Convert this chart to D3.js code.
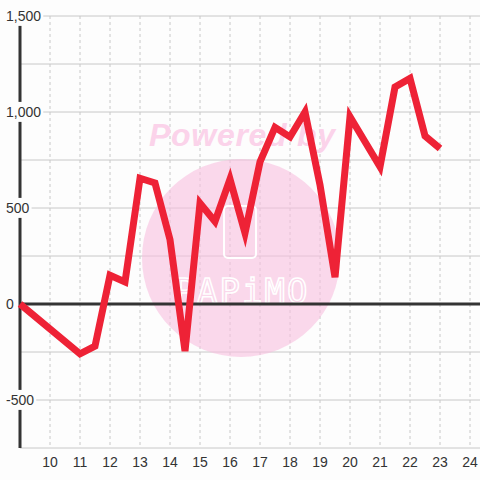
<!DOCTYPE html>
<html>
<head>
<meta charset="utf-8">
<script src="https://cdn.jsdelivr.net/npm/d3@7"></script>
<style>
  body { margin: 0; background: #fdfdfd; }
  svg { display: block; font-family: "Liberation Sans", Arial, sans-serif; }
</style>
</head>
<body>
<svg id="chart" width="480" height="480"></svg>
<script>
// data
const hours = [9, 11, 11.5, 12, 12.5, 13, 13.5, 14, 14.5, 15, 15.5, 16, 16.5, 17, 17.5, 18, 18.5, 19, 19.5, 20, 20.5, 21, 21.5, 22, 22.5, 23];
const values = [0, -260, -220, 150, 115, 655, 630, 335, -245, 525, 430, 650, 370, 740, 920, 870, 1000, 620, 140, 975, 845, 715, 1130, 1175, 875, 810];
const xTicks = [10, 11, 12, 13, 14, 15, 16, 17, 18, 19, 20, 21, 22, 23, 24];
const yGrid = [-750, -500, -250, 0, 250, 500, 750, 1000, 1250, 1500];
const yLabels = [-500, 0, 500, 1000, 1500];

const width = 480, height = 480;
const svg = d3.select('#chart');

const x = d3.scaleLinear().domain([9, 24.333]).range([20, 480]);
const y = d3.scaleLinear().domain([-750, 1500]).range([448, 16]);

const grid = svg.append('g');

// vertical dashed grid
grid.selectAll('line.v')
    .data(xTicks)
    .enter()
    .append('line')
    .attr('class', 'v')
    .attr('x1', d => x(d)).attr('x2', d => x(d))
    .attr('y1', y(1500)).attr('y2', y(-750))
    .attr('stroke', '#c8c8c8')
    .attr('stroke-dasharray', '3,3')
    .attr('stroke-width', 1);

// horizontal grid
grid.selectAll('line.h')
    .data(yGrid.filter(d => d !== 0))
    .enter()
    .append('line')
    .attr('class', 'h')
    .attr('x1', x(9)).attr('x2', width)
    .attr('y1', d => y(d)).attr('y2', d => y(d))
    .attr('stroke', '#c8c8c8')
    .attr('stroke-width', 1);

// watermark (sits over the grid, under the series)
const wm = svg.append('g');
wm.append('circle')
    .attr('cx', 241).attr('cy', 258).attr('r', 99)
    .attr('fill', '#f9c0e0')
    .attr('opacity', 0.6);
wm.append('text')
    .attr('x', 242).attr('y', 146)
    .attr('text-anchor', 'middle')
    .attr('font-size', 32)
    .attr('font-weight', 'bold')
    .attr('font-style', 'italic')
    .attr('textLength', 186)
    .attr('fill', '#fbd3ea')
    .text('Powered by');
wm.append('rect')
    .attr('x', 224).attr('y', 206).attr('width', 32).attr('height', 52).attr('rx', 4)
    .attr('fill', 'none').attr('stroke', '#fff').attr('stroke-width', 2);
wm.append('text')
    .attr('x', 242).attr('y', 303)
    .attr('text-anchor', 'middle')
    .attr('font-size', 34)
    .attr('font-family', 'DejaVu Sans Mono')
    .attr('letter-spacing', 2)
    .attr('fill', 'none')
    .attr('stroke', '#fff')
    .attr('stroke-width', 1.5)
    .text('PAPiMO');

// axes lines
svg.append('line')
    .attr('x1', x(9)).attr('x2', width)
    .attr('y1', y(0)).attr('y2', y(0))
    .attr('stroke', '#333').attr('stroke-width', 3);
svg.append('line')
    .attr('x1', x(9)).attr('x2', x(9))
    .attr('y1', y(1500)).attr('y2', y(-750))
    .attr('stroke', '#333').attr('stroke-width', 3);

// y labels with background boxes that cut the axis
const yl = svg.append('g');
yLabels.forEach(v => {
  const t = yl.append('text')
      .attr('x', 6)
      .attr('y', y(v))
      .attr('dy', '0.35em')
      .attr('font-size', 14)
      .attr('fill', '#333')
      .text(d3.format(',')(v).replace('\u2212', '-'));
  const b = t.node().getBBox();
  yl.insert('rect', 'text')
      .attr('x', b.x - 2).attr('y', b.y - 2)
      .attr('width', b.width + 4).attr('height', b.height + 4)
      .attr('fill', '#fdfdfd');
});

// x labels
svg.append('g').selectAll('text')
    .data(xTicks)
    .enter()
    .append('text')
    .attr('x', d => x(d))
    .attr('y', 467)
    .attr('text-anchor', 'middle')
    .attr('font-size', 14)
    .attr('fill', '#333')
    .text(d => d);

// series line
const line = d3.line()
    .x((d, i) => x(hours[i]))
    .y(d => y(d));

svg.append('path')
    .datum(values)
    .attr('d', line)
    .attr('fill', 'none')
    .attr('stroke', '#ee2236')
    .attr('stroke-width', 7)
    .attr('stroke-linejoin', 'miter')
    .attr('stroke-miterlimit', 6);
</script>
</body>
</html>
